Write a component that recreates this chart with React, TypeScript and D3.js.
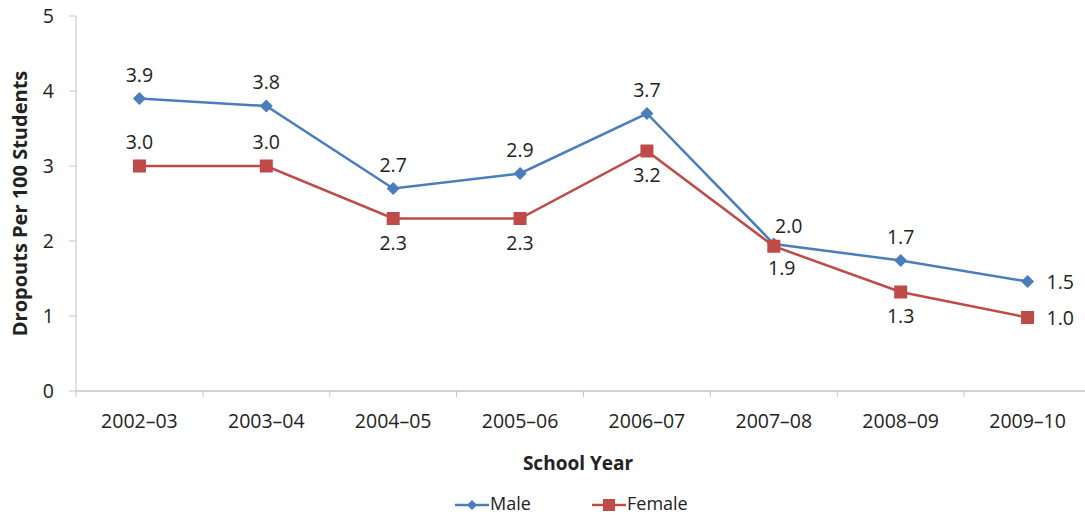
import * as d3 from "d3";

const years = ["2002–03", "2003–04", "2004–05", "2005–06", "2006–07", "2007–08", "2008–09", "2009–10"];
const male = [3.9, 3.8, 2.7, 2.9, 3.7, 1.96, 1.74, 1.46];
const female = [3.0, 3.0, 2.3, 2.3, 3.2, 1.93, 1.32, 0.98];
const maleLabels = ["3.9", "3.8", "2.7", "2.9", "3.7", "2.0", "1.7", "1.5"];
const femaleLabels = ["3.0", "3.0", "2.3", "2.3", "3.2", "1.9", "1.3", "1.0"];
const yTicks = [0, 1, 2, 3, 4, 5];

// where each data label sits relative to its point
const malePos = ["above", "above", "above", "above", "above", "aboveRight", "above", "right"];
const femalePos = ["above", "above", "below", "below", "below", "belowRight", "below", "right"];

const W = 1085;
const H = 516;
const FONT = "'Open Sans', sans-serif";
const BLUE = "#4a7ebb";
const RED = "#be4b48";
const AXIS = "#c4c4c4";
const TEXT = "#222";
const FS = 19.5;

export default function App() {
  const x = d3.scaleBand().domain(years).range([76, 1091]).paddingInner(0);
  const cx = (d: string) => (x(d) || 0) + x.bandwidth() / 2;
  const y = d3.scaleLinear().domain([0, 5]).range([391, 16]);

  const line = d3
    .line<number>()
    .x((_, i) => cx(years[i]))
    .y((d) => y(d));

  const labelXY = (pos: string, px: number, py: number) => {
    if (pos === "above") return { x: px, y: py - 17, anchor: "middle" };
    if (pos === "below") return { x: px, y: py + 31, anchor: "middle" };
    if (pos === "aboveRight") return { x: px + 15, y: py - 11, anchor: "middle" };
    if (pos === "belowRight") return { x: px + 8, y: py + 29, anchor: "middle" };
    return { x: px + 19, y: py + 7, anchor: "start" };
  };

  const diamond = "M0,-6.5L6.5,0L0,6.5L-6.5,0Z";

  return (
    <svg
      width={W}
      height={H}
      style={{ position: "absolute", left: 0, top: 0, background: "#fff" }}
      fontFamily={FONT}
    >
      {/* y axis */}
      <line x1={76} x2={76} y1={y(5)} y2={y(0)} stroke={AXIS} strokeWidth={1} />
      {yTicks.map((t) => (
        <g key={t}>
          <line x1={69} x2={76} y1={y(t)} y2={y(t)} stroke={AXIS} />
          <text x={54} y={y(t) + 7} textAnchor="end" fontSize={FS} fill={TEXT}>
            {t}
          </text>
        </g>
      ))}
      <text
        transform={`translate(27,${(y(0) + y(5)) / 2}) rotate(-90)`}
        textAnchor="middle"
        fontSize={20}
        fontWeight="bold"
        fill={TEXT}
      >
        Dropouts Per 100 Students
      </text>

      {/* x axis */}
      <line x1={76} x2={W} y1={y(0)} y2={y(0)} stroke={AXIS} strokeWidth={1.5} />
      {years.map((d) => (
        <g key={d}>
          <line x1={x(d)} x2={x(d)} y1={y(0)} y2={y(0) + 6} stroke={AXIS} />
          <text x={cx(d)} y={428} textAnchor="middle" fontSize={FS} fill={TEXT}>
            {d}
          </text>
        </g>
      ))}
      <text x={578} y={470} textAnchor="middle" fontSize={19} fontWeight="bold" fill={TEXT}>
        School Year
      </text>

      {/* series */}
      <path d={line(male) || ""} fill="none" stroke={BLUE} strokeWidth={2.5} />
      <path d={line(female) || ""} fill="none" stroke={RED} strokeWidth={2.5} />
      {male.map((v, i) => (
        <path key={"m" + i} d={diamond} transform={`translate(${cx(years[i])},${y(v)})`} fill={BLUE} />
      ))}
      {female.map((v, i) => (
        <rect key={"f" + i} x={cx(years[i]) - 6.5} y={y(v) - 6.5} width={13} height={13} fill={RED} />
      ))}
      {male.map((v, i) => {
        const p = labelXY(malePos[i], cx(years[i]), y(v));
        return (
          <text key={"ml" + i} x={p.x} y={p.y} textAnchor={p.anchor} fontSize={FS} fill={TEXT}>
            {maleLabels[i]}
          </text>
        );
      })}
      {female.map((v, i) => {
        const p = labelXY(femalePos[i], cx(years[i]), y(v));
        return (
          <text key={"fl" + i} x={p.x} y={p.y} textAnchor={p.anchor} fontSize={FS} fill={TEXT}>
            {femaleLabels[i]}
          </text>
        );
      })}

      {/* legend */}
      <line x1={455} x2={489} y1={505} y2={505} stroke={BLUE} strokeWidth={2.5} />
      <path d="M0,-5L5,0L0,5L-5,0Z" transform="translate(472,505)" fill={BLUE} />
      <text x={490} y={510} fontSize={18} fill={TEXT}>
        Male
      </text>
      <line x1={592} x2={626} y1={505} y2={505} stroke={RED} strokeWidth={2.5} />
      <rect x={603} y={499} width={12} height={12} fill={RED} />
      <text x={627} y={510} fontSize={18} fill={TEXT}>
        Female
      </text>
    </svg>
  );
}
